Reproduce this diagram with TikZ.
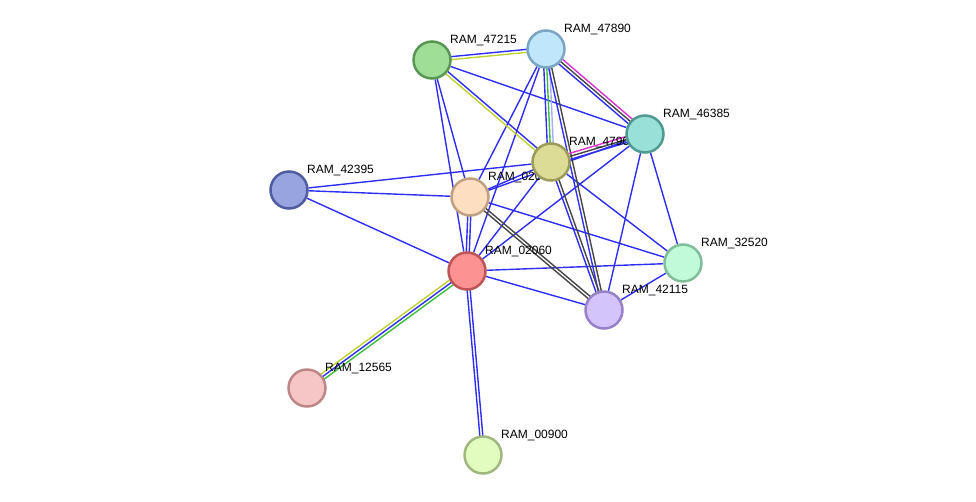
\documentclass[tikz,border=0pt]{standalone}
\usepackage{fontspec}
\setmainfont{Liberation Sans}
\usepackage{tikz}
\usetikzlibrary{positioning, calc, backgrounds}

\definecolor{eblue}{RGB}{45,45,245}
\definecolor{eyellow}{RGB}{190,210,50}
\definecolor{egreen}{RGB}{60,190,60}
\definecolor{emag}{RGB}{220,50,210}
\definecolor{egray}{RGB}{70,70,70}
\definecolor{elav}{RGB}{170,170,250}

\definecolor{f42395}{RGB}{152,164,224}\definecolor{d42395}{RGB}{80,92,160}
\definecolor{f47215}{RGB}{158,222,150}\definecolor{d47215}{RGB}{90,150,85}
\definecolor{f47890}{RGB}{192,230,252}\definecolor{d47890}{RGB}{122,165,195}
\definecolor{f020}{RGB}{253,222,192}\definecolor{d020}{RGB}{192,160,128}
\definecolor{f4790}{RGB}{220,220,150}\definecolor{d4790}{RGB}{155,155,90}
\definecolor{f46385}{RGB}{152,224,216}\definecolor{d46385}{RGB}{80,155,145}
\definecolor{f02060}{RGB}{252,146,146}\definecolor{d02060}{RGB}{190,85,85}
\definecolor{f32520}{RGB}{192,250,216}\definecolor{d32520}{RGB}{128,190,155}
\definecolor{f42115}{RGB}{212,196,252}\definecolor{d42115}{RGB}{150,128,200}
\definecolor{f12565}{RGB}{246,198,198}\definecolor{d12565}{RGB}{190,135,135}
\definecolor{f00900}{RGB}{226,252,192}\definecolor{d00900}{RGB}{160,184,128}

\tikzset{
  prot/.style={circle, line width=2.5pt, minimum size=37pt, inner sep=0pt},
  lbl/.style={font=\fontsize{12}{14}\selectfont, inner sep=2pt, xshift=2pt, yshift=-2pt},
  edge/.style={line width=1.4pt, eblue},
}

\newcommand{\offedge}[4]{\draw[edge,#4] ($(#1)!#3!90:(#2)$) -- ($(#2)!#3!-90:(#1)$);}

\begin{document}
\begin{tikzpicture}[x=1pt,y=-1pt]
    \useasboundingbox (0,0) rectangle (976,501);
    \node[prot, draw=d42395, fill=f42395, label={[lbl]above right:RAM\_42395}] (n42395) at (289,190) {};
    \node[prot, draw=d47215, fill=f47215, label={[lbl]above right:RAM\_47215}] (n47215) at (432,60) {};
    \node[prot, draw=d47890, fill=f47890, label={[lbl]above right:RAM\_47890}] (n47890) at (546,49) {};
    \node[prot, draw=d020, fill=f020, label={[lbl]above right:RAM\_020}] (n020) at (470,197) {};
    \node[prot, draw=d4790, fill=f4790, label={[lbl]above right:RAM\_4790}] (n4790) at (551,162) {};
    \node[prot, draw=d46385, fill=f46385, label={[lbl]above right:RAM\_46385}] (n46385) at (645,134) {};
    \node[prot, draw=d02060, fill=f02060, label={[lbl]above right:RAM\_02060}] (n02060) at (467,271) {};
    \node[prot, draw=d32520, fill=f32520, label={[lbl]above right:RAM\_32520}] (n32520) at (683,263) {};
    \node[prot, draw=d42115, fill=f42115, label={[lbl]above right:RAM\_42115}] (n42115) at (604,310) {};
    \node[prot, draw=d12565, fill=f12565, label={[lbl]above right:RAM\_12565}] (n12565) at (307,388) {};
    \node[prot, draw=d00900, fill=f00900, label={[lbl]above right:RAM\_00900}] (n00900) at (483,455) {};
    \begin{pgfonlayer}{background}
        \foreach \a/\b in {n47215/n46385, n47215/n020, n47215/n02060, n47890/n020, n47890/n02060,
            n46385/n02060, n46385/n42115, n46385/n32520, n46385/n020, n42395/n4790, n42395/n020,
            n42395/n02060, n020/n32520, n020/n4790, n4790/n02060, n4790/n32520, n02060/n32520,
            n02060/n42115, n42115/n32520}
            \draw[edge] (\a) -- (\b);
        \foreach \a/\b/\o/\c in {n47215/n47890/1.5pt/eblue, n47215/n47890/-1.5pt/eyellow,
            n47215/n4790/1.5pt/eblue, n47215/n4790/-1.5pt/eyellow,
            n47890/n46385/3pt/emag, n47890/n46385/0pt/egray, n47890/n46385/-3pt/eblue,
            n47890/n4790/-3pt/eblue, n47890/n4790/0pt/egreen, n47890/n4790/3pt/elav,
            n47890/n42115/1.5pt/egray, n47890/n42115/-1.5pt/eblue,
            n4790/n46385/3pt/emag, n4790/n46385/0pt/egray, n4790/n46385/-3pt/eblue,
            n4790/n42115/1.5pt/egray, n4790/n42115/-1.5pt/eblue,
            n020/n42115/1.5pt/egray, n020/n42115/-1.5pt/egray,
            n020/n02060/1.5pt/eblue, n020/n02060/-1.5pt/eblue,
            n02060/n00900/1.5pt/eblue, n02060/n00900/-1.5pt/eblue,
            n02060/n12565/-3pt/eyellow, n02060/n12565/0pt/eblue, n02060/n12565/3pt/egreen}
            {\offedge{\a}{\b}{\o}{\c}}
    \end{pgfonlayer}
\end{tikzpicture}
\end{document}
